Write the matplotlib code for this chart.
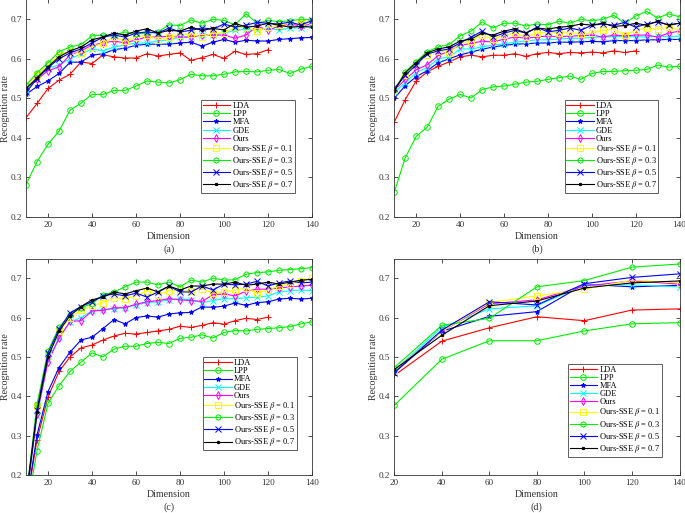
import matplotlib
matplotlib.use("Agg")
import matplotlib.pyplot as plt
import numpy as np

plt.rcParams['font.family'] = ['Liberation Serif', 'DejaVu Serif']
plt.rcParams['mathtext.fontset'] = 'stix'
plt.rcParams['font.size'] = 7

# x values
dims = list(range(10, 145, 5))       # panels a, b, c
dims_lda = list(range(10, 125, 5))   # LDA stops at 120
dims_d = [20, 40, 60, 80, 100, 120, 140]

# ---------------- panel (a)
lda_a = [0.451, 0.487, 0.525, 0.546, 0.561, 0.592, 0.588, 0.610, 0.605, 0.602, 0.602, 0.613,
         0.607, 0.611, 0.615, 0.596, 0.603, 0.611, 0.601, 0.619, 0.611, 0.613, 0.623]
lpp_a = [0.282, 0.340, 0.384, 0.417, 0.470, 0.488, 0.510, 0.510, 0.520, 0.520, 0.531, 0.544, 0.541,
         0.539, 0.547, 0.561, 0.557, 0.557, 0.561, 0.567, 0.568, 0.567, 0.571, 0.573, 0.563, 0.574, 0.581]
mfa_a = [0.510, 0.530, 0.544, 0.563, 0.591, 0.592, 0.609, 0.613, 0.623, 0.627, 0.634, 0.637, 0.637,
         0.637, 0.640, 0.642, 0.632, 0.642, 0.649, 0.642, 0.647, 0.645, 0.645, 0.649, 0.651, 0.653, 0.654]
gde_a = [0.520, 0.550, 0.575, 0.585, 0.600, 0.612, 0.625, 0.620, 0.630, 0.635, 0.640, 0.640, 0.645,
         0.648, 0.655, 0.655, 0.660, 0.660, 0.665, 0.672, 0.675, 0.672, 0.677, 0.673, 0.678, 0.678, 0.685]
ours_a = [0.525, 0.548, 0.570, 0.580, 0.610, 0.620, 0.635, 0.640, 0.645, 0.640, 0.648, 0.655, 0.655,
          0.657, 0.655, 0.655, 0.660, 0.660, 0.660, 0.652, 0.660, 0.683, 0.672, 0.683, 0.688, 0.683, 0.688]
sse1_a = [0.530, 0.560, 0.585, 0.610, 0.620, 0.615, 0.630, 0.640, 0.655, 0.645, 0.655, 0.660, 0.648,
          0.655, 0.660, 0.663, 0.655, 0.665, 0.665, 0.680, 0.680, 0.670, 0.680, 0.685, 0.690, 0.690, 0.695]
sse3_a = [0.533, 0.565, 0.590, 0.618, 0.630, 0.636, 0.658, 0.660, 0.660, 0.668, 0.663, 0.665, 0.668,
          0.686, 0.684, 0.698, 0.690, 0.700, 0.697, 0.686, 0.714, 0.690, 0.697, 0.694, 0.696, 0.700, 0.698]
sse5_a = [0.515, 0.550, 0.578, 0.600, 0.615, 0.625, 0.640, 0.655, 0.660, 0.655, 0.665, 0.668, 0.665,
          0.678, 0.668, 0.672, 0.678, 0.675, 0.688, 0.680, 0.685, 0.692, 0.690, 0.688, 0.693, 0.685, 0.697]
sse7_a = [0.525, 0.552, 0.580, 0.605, 0.620, 0.630, 0.648, 0.655, 0.665, 0.660, 0.670, 0.676, 0.665,
          0.672, 0.670, 0.680, 0.672, 0.677, 0.673, 0.690, 0.680, 0.683, 0.690, 0.685, 0.680, 0.682, 0.680]

# ---------------- panel (b)
lda_b = [0.440, 0.497, 0.544, 0.567, 0.581, 0.592, 0.605, 0.609, 0.605, 0.609, 0.609, 0.613,
         0.606, 0.613, 0.616, 0.613, 0.616, 0.615, 0.617, 0.615, 0.620, 0.616, 0.620]
lpp_b = [0.263, 0.350, 0.404, 0.427, 0.480, 0.498, 0.510, 0.501, 0.522, 0.529, 0.531, 0.536, 0.541,
         0.543, 0.548, 0.552, 0.556, 0.548, 0.563, 0.568, 0.568, 0.570, 0.571, 0.573, 0.584, 0.579, 0.581]
mfa_b = [0.500, 0.532, 0.555, 0.570, 0.590, 0.600, 0.610, 0.617, 0.624, 0.630, 0.634, 0.637, 0.638,
         0.640, 0.640, 0.642, 0.642, 0.643, 0.644, 0.643, 0.646, 0.646, 0.646, 0.648, 0.648, 0.649, 0.649]
gde_b = [0.515, 0.540, 0.565, 0.578, 0.600, 0.605, 0.625, 0.625, 0.630, 0.635, 0.638, 0.642, 0.645,
         0.648, 0.648, 0.650, 0.652, 0.652, 0.654, 0.655, 0.656, 0.656, 0.656, 0.655, 0.657, 0.657, 0.657]
ours_b = [0.520, 0.548, 0.572, 0.585, 0.608, 0.620, 0.635, 0.638, 0.645, 0.642, 0.650, 0.655, 0.652,
          0.655, 0.658, 0.655, 0.658, 0.658, 0.660, 0.655, 0.660, 0.658, 0.660, 0.660, 0.655, 0.665, 0.670]
sse1_b = [0.520, 0.560, 0.590, 0.610, 0.620, 0.615, 0.640, 0.645, 0.660, 0.650, 0.660, 0.665, 0.655,
          0.665, 0.668, 0.665, 0.668, 0.662, 0.665, 0.672, 0.675, 0.660, 0.672, 0.678, 0.675, 0.680, 0.672]
sse3_b = [0.520, 0.567, 0.593, 0.618, 0.630, 0.636, 0.658, 0.670, 0.693, 0.678, 0.690, 0.690, 0.683,
          0.688, 0.686, 0.695, 0.690, 0.700, 0.696, 0.700, 0.710, 0.690, 0.708, 0.720, 0.703, 0.714, 0.706]
sse5_b = [0.525, 0.558, 0.585, 0.612, 0.620, 0.625, 0.640, 0.655, 0.670, 0.655, 0.665, 0.672, 0.665,
          0.680, 0.668, 0.672, 0.678, 0.672, 0.685, 0.688, 0.685, 0.692, 0.680, 0.688, 0.693, 0.686, 0.690]
sse7_b = [0.518, 0.565, 0.590, 0.615, 0.625, 0.630, 0.645, 0.650, 0.665, 0.660, 0.670, 0.676, 0.665,
          0.678, 0.675, 0.680, 0.682, 0.688, 0.685, 0.690, 0.682, 0.684, 0.690, 0.685, 0.695, 0.685, 0.690]

# ---------------- panel (c)
lda_c = [0.120, 0.290, 0.398, 0.463, 0.500, 0.523, 0.530, 0.543, 0.553, 0.560, 0.558, 0.562,
         0.566, 0.570, 0.578, 0.575, 0.580, 0.587, 0.583, 0.592, 0.598, 0.595, 0.601]
lpp_c = [0.100, 0.262, 0.382, 0.427, 0.463, 0.487, 0.510, 0.500, 0.520, 0.527, 0.527, 0.534, 0.537,
         0.534, 0.547, 0.550, 0.556, 0.548, 0.562, 0.567, 0.566, 0.570, 0.572, 0.574, 0.577, 0.584, 0.589]
mfa_c = [0.120, 0.302, 0.412, 0.473, 0.512, 0.543, 0.550, 0.572, 0.595, 0.584, 0.600, 0.604, 0.601,
         0.609, 0.612, 0.613, 0.627, 0.626, 0.629, 0.637, 0.631, 0.638, 0.640, 0.647, 0.649, 0.647, 0.649]
gde_c = [0.130, 0.350, 0.490, 0.550, 0.588, 0.600, 0.617, 0.620, 0.622, 0.625, 0.632, 0.638, 0.640,
         0.645, 0.648, 0.645, 0.638, 0.643, 0.648, 0.648, 0.650, 0.652, 0.655, 0.665, 0.668, 0.670, 0.668]
ours_c = [0.130, 0.355, 0.488, 0.547, 0.590, 0.592, 0.617, 0.618, 0.625, 0.625, 0.634, 0.640, 0.643,
          0.648, 0.645, 0.643, 0.641, 0.658, 0.660, 0.655, 0.667, 0.672, 0.672, 0.675, 0.678, 0.680, 0.682]
sse1_c = [0.140, 0.375, 0.505, 0.565, 0.600, 0.618, 0.630, 0.638, 0.650, 0.648, 0.655, 0.668, 0.658,
          0.668, 0.670, 0.668, 0.672, 0.662, 0.665, 0.670, 0.675, 0.662, 0.670, 0.680, 0.685, 0.693, 0.700]
sse3_c = [0.140, 0.380, 0.515, 0.575, 0.607, 0.625, 0.635, 0.658, 0.665, 0.678, 0.690, 0.690, 0.683,
          0.690, 0.678, 0.695, 0.690, 0.700, 0.695, 0.696, 0.710, 0.714, 0.716, 0.720, 0.722, 0.724, 0.727]
sse5_c = [0.140, 0.365, 0.510, 0.570, 0.612, 0.628, 0.640, 0.655, 0.660, 0.655, 0.662, 0.652, 0.665,
          0.680, 0.665, 0.665, 0.680, 0.670, 0.685, 0.683, 0.685, 0.692, 0.680, 0.688, 0.693, 0.688, 0.690]
sse7_c = [0.140, 0.360, 0.500, 0.565, 0.605, 0.628, 0.645, 0.652, 0.665, 0.660, 0.668, 0.675, 0.665,
          0.680, 0.670, 0.680, 0.680, 0.685, 0.685, 0.690, 0.682, 0.685, 0.690, 0.685, 0.690, 0.695, 0.697]

# ---------------- panel (d)
lda_d = [0.453, 0.540, 0.574, 0.602, 0.592, 0.619, 0.622]
lpp_d = [0.377, 0.494, 0.541, 0.541, 0.566, 0.584, 0.587]
mfa_d = [0.460, 0.565, 0.603, 0.615, 0.685, 0.678, 0.682]
gde_d = [0.465, 0.575, 0.622, 0.630, 0.683, 0.683, 0.678]
ours_d = [0.465, 0.565, 0.635, 0.645, 0.680, 0.693, 0.685]
sse1_d = [0.465, 0.565, 0.638, 0.655, 0.672, 0.695, 0.688]
sse3_d = [0.473, 0.580, 0.598, 0.678, 0.694, 0.728, 0.736]
sse5_d = [0.460, 0.568, 0.640, 0.632, 0.686, 0.702, 0.711]
sse7_d = [0.468, 0.555, 0.630, 0.642, 0.675, 0.688, 0.693]

labels = ['LDA', 'LPP', 'MFA', 'GDE', 'Ours',
          r'Ours-SSE $\beta$ = 0.1', r'Ours-SSE $\beta$ = 0.3',
          r'Ours-SSE $\beta$ = 0.5', r'Ours-SSE $\beta$ = 0.7']
# (color, marker, filled)
styles = [('#ff0000', '+', True), ('#00ee00', 'o', False), ('#0000ff', '*', True),
          ('#00ffff', 'x', True), ('#ff00ff', 'd', False), ('#ffff00', 's', False),
          ('#00ee00', 'h', False), ('#0000ff', 'x', True), ('#000000', '.', True)]

panels = [
    ('(a)', [lda_a, lpp_a, mfa_a, gde_a, ours_a, sse1_a, sse3_a, sse5_a, sse7_a], dims, (10, 140), 0.94, 0.11),
    ('(b)', [lda_b, lpp_b, mfa_b, gde_b, ours_b, sse1_b, sse3_b, sse5_b, sse7_b], dims, (10, 140), 0.926, 0.11),
    ('(c)', [lda_c, lpp_c, mfa_c, gde_c, ours_c, sse1_c, sse3_c, sse5_c, sse7_c], dims, (10, 140), 0.946, 0.115),
    ('(d)', [lda_d, lpp_d, mfa_d, gde_d, ours_d, sse1_d, sse3_d, sse5_d, sse7_d], dims_d, (20, 140), 0.938, 0.085),
]

rects = [[0.038, 0.577, 0.4175, 0.424], [0.5756, 0.577, 0.4164, 0.424],
         [0.038, 0.0741, 0.4175, 0.422], [0.5756, 0.0741, 0.4164, 0.422]]

fig = plt.figure(figsize=(6.85, 5.13), dpi=100)
gray = '#333333'

for (tag, series, xs, xlim, lx, ly), rect in zip(panels, rects):
    ax = fig.add_axes(rect)
    for i, (vals, lab, (col, mk, filled)) in enumerate(zip(series, labels, styles)):
        x = xs
        if tag != '(d)' and i == 0:
            x = dims_lda
        ax.plot(x, vals, color=col, marker=mk, label=lab, linewidth=0.8,
                markersize=4 if mk not in ('.', '*') else 3.5,
                markerfacecolor=col if filled else 'none', markeredgewidth=0.7)
    ax.set_xlim(*xlim)
    ax.set_ylim(0.2, 0.75)
    ax.set_xticks([20, 40, 60, 80, 100, 120, 140])
    ax.set_yticks([0.2, 0.3, 0.4, 0.5, 0.6, 0.7])
    ax.set_yticklabels(['0.2', '0.3', '0.4', '0.5', '0.6', '0.7'])
    ax.tick_params(direction='in', top=True, right=True, length=3, width=0.6,
                   labelsize=6.6, colors=gray, pad=3)
    for sp in ax.spines.values():
        sp.set_linewidth(0.6)
        sp.set_color(gray)
    ax.set_xlabel('Dimension', fontsize=7.2, labelpad=2, color=gray)
    ax.set_ylabel('Recognition rate', fontsize=7.2, color=gray)
    ax.yaxis.set_label_coords(-0.056, 0.5)
    ax.text(0.5, -0.148, tag, transform=ax.transAxes, ha='center', va='center',
            fontsize=7.2, color=gray)
    leg = ax.legend(loc='lower right', bbox_to_anchor=(lx, ly), fontsize=6,
                    handlelength=3.3, labelspacing=0.02, borderpad=0.2,
                    handletextpad=0.25, borderaxespad=0, fancybox=False,
                    framealpha=1, edgecolor='#444444')
    leg.get_frame().set_linewidth(0.6)

fig.savefig('out.png', dpi=100)
